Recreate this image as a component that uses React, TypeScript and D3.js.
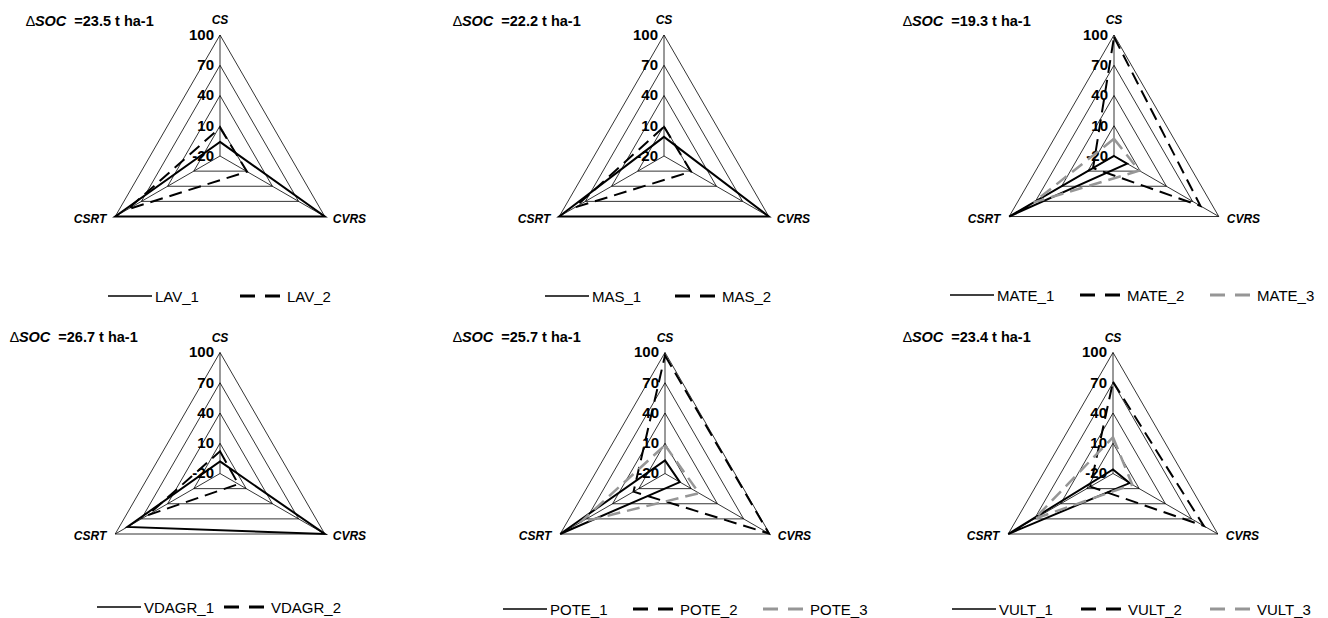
import React from "react";
import * as d3 from "d3";

// ---------- data ----------
const axes = ["CS", "CVRS", "CSRT"];
const tickValues = [-20, 10, 40, 70, 100];
const sites = ["LAV", "MAS", "MATE", "VDAGR", "POTE", "VULT"];
const deltaSOC = ["23.5", "22.2", "19.3", "26.7", "25.7", "23.4"];

// values per axis: [CS, CVRS, CSRT]
const lav1 = [-6, 100, 100];
const lav2 = [8, 11, 86];
const mas1 = [-1, 100, 100];
const mas2 = [9, 11, 82];
const mate1 = [-20, -5, 100];
const mate2 = [98, 79, 4];
const mate3 = [-3, 9, 72];
const vdagr1 = [-8, 100, 86];
const vdagr2 = [2, 1, 63];
const pote1 = [-7, -3, 100];
const pote2 = [97, 99, 16];
const pote3 = [8, 19, 77];
const vult1 = [-16, -1, 100];
const vult2 = [71, 84, 6];
const vult3 = [16, 2, 70];

const seriesBySite = [
  [lav1, lav2],
  [mas1, mas2],
  [mate1, mate2, mate3],
  [vdagr1, vdagr2],
  [pote1, pote2, pote3],
  [vult1, vult2, vult3],
];

// ---------- layout & style ----------
const W = 1328;
const H = 618;
const R = 121;
const FONT = "'Liberation Sans', Arial, Helvetica, sans-serif";

const panels = [
  { cx: 220, cy: 156, titleX: 26, titleY: 26, legX: 108, legY: 296, stride: 132 },
  { cx: 664, cy: 156, titleX: 453, titleY: 26, legX: 545, legY: 296, stride: 130 },
  { cx: 1114, cy: 156, titleX: 903, titleY: 26, legX: 950, legY: 295, stride: 130 },
  { cx: 220, cy: 473.5, titleX: 10, titleY: 342, legX: 97, legY: 607, stride: 127 },
  { cx: 665, cy: 473.5, titleX: 453, titleY: 342, legX: 503, legY: 609, stride: 130 },
  { cx: 1113, cy: 473.5, titleX: 903, titleY: 342, legX: 952, legY: 609, stride: 129 },
];

const seriesStyles = [
  { stroke: "#000", dash: undefined as string | undefined, width: 2, legWidth: 1.6, legDash: undefined as string | undefined },
  { stroke: "#000", dash: "13,7", width: 2, legWidth: 3, legDash: "15,10" },
  { stroke: "#969696", dash: "13,7", width: 2.5, legWidth: 3, legDash: "15,10" },
];

const rScale = d3.scaleLinear().domain([-20, 100]).range([0, R]);
const angle = (i: number) => (i * 2 * Math.PI) / axes.length;

const radial = d3
  .lineRadial<number>()
  .angle((_, i) => angle(i))
  .radius((v) => rScale(v))
  .curve(d3.curveLinearClosed);

function pt(i: number, r: number): [number, number] {
  const a = angle(i) - Math.PI / 2;
  return [r * Math.cos(a), r * Math.sin(a)];
}

function Panel({ idx }: { idx: number }) {
  const p = panels[idx];
  const series = seriesBySite[idx];
  const site = sites[idx];
  return (
    <g>
      {/* title */}
      <text x={p.titleX} y={p.titleY} fontFamily={FONT} fontSize={14.5} fontWeight="bold" fill="#000">
        <tspan fontWeight="normal">∆</tspan>
        <tspan fontStyle="italic">SOC</tspan>
        <tspan dx={4}>{` =${deltaSOC[idx]} t ha-1`}</tspan>
      </text>
      <g transform={`translate(${p.cx},${p.cy})`}>
        {/* grid */}
        {tickValues
          .filter((t) => t > -20)
          .map((t) => (
            <path
              key={t}
              d={radial(axes.map(() => t)) || ""}
              fill="none"
              stroke="#000"
              strokeWidth={0.8}
            />
          ))}
        {axes.map((a, i) => {
          const [x, y] = pt(i, R);
          return <line key={a} x1={0} y1={0} x2={x} y2={y} stroke="#000" strokeWidth={0.8} />;
        })}
        {/* tick labels */}
        {tickValues.map((t) => (
          <text
            key={t}
            x={-6}
            y={-rScale(t) + 1}
            textAnchor="end"
            dominantBaseline="middle"
            fontFamily={FONT}
            fontSize={15}
            fontWeight="bold"
            fill="#000"
          >
            {t}
          </text>
        ))}
        {/* axis labels */}
        {axes.map((a, i) => {
          const [x, y] = pt(i, R);
          let tx = x,
            ty = y,
            anchor = "middle";
          if (i === 0) {
            ty = y - 11;
          } else if (i === 1) {
            tx = x + 8;
            ty = y + 6;
            anchor = "start";
          } else {
            tx = x - 9;
            ty = y + 6;
            anchor = "end";
          }
          return (
            <text
              key={a}
              x={tx}
              y={ty}
              textAnchor={anchor}
              fontFamily={FONT}
              fontSize={12}
              fontWeight="bold"
              fontStyle="italic"
              fill="#000"
            >
              {a}
            </text>
          );
        })}
        {/* series */}
        {series.map((vals, si) => {
          const st = seriesStyles[si];
          return (
            <path
              key={si}
              d={radial(vals) || ""}
              fill="none"
              stroke={st.stroke}
              strokeWidth={st.width}
              strokeDasharray={st.dash}
              strokeLinejoin="miter"
            />
          );
        })}
      </g>
      {/* legend */}
      {series.map((_, si) => {
        const st = seriesStyles[si];
        const x0 = p.legX + si * p.stride;
        return (
          <g key={si}>
            <line
              x1={x0}
              x2={x0 + 44}
              y1={p.legY}
              y2={p.legY}
              stroke={st.stroke}
              strokeWidth={st.legWidth}
              strokeDasharray={st.legDash}
            />
            <text x={x0 + 47} y={p.legY + 5.5} fontFamily={FONT} fontSize={15} fill="#000">
              {`${site}_${si + 1}`}
            </text>
          </g>
        );
      })}
    </g>
  );
}

export default function App() {
  return (
    <svg
      width={W}
      height={H}
      viewBox={`0 0 ${W} ${H}`}
      style={{ position: "absolute", left: 0, top: 0, background: "#fff" }}
    >
      <rect width={W} height={H} fill="#fff" />
      {panels.map((_, i) => (
        <Panel key={i} idx={i} />
      ))}
    </svg>
  );
}
